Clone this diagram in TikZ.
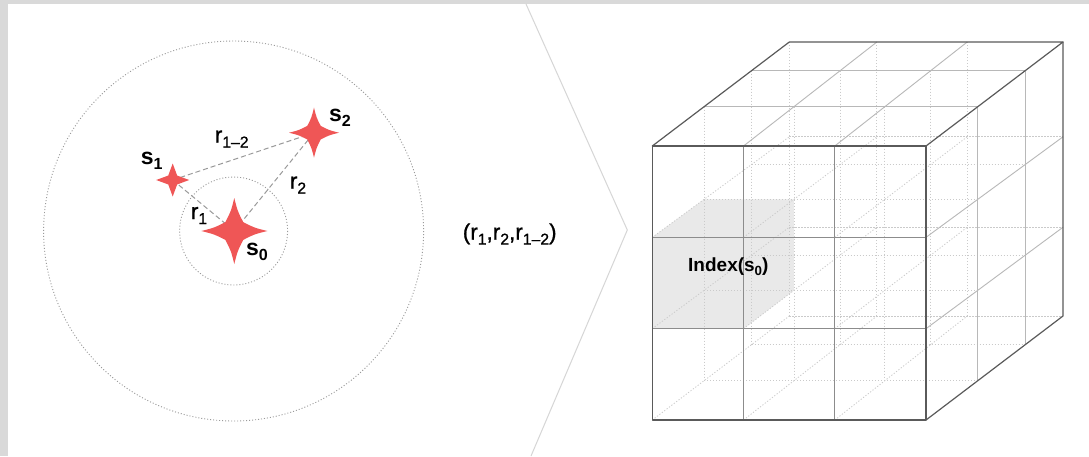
\documentclass[tikz,border=0pt]{standalone}
\usepackage{fontspec}
\setmainfont{Liberation Sans}
\newfontfamily\medfont{Liberation Sans}[FakeBold=0.9]
\usepackage{graphicx}
\definecolor{bgray}{HTML}{D9D9D9}
\definecolor{starred}{HTML}{EF5656}
\definecolor{edgedark}{HTML}{5A5A5A}
\definecolor{edgemid}{HTML}{8C8C8C}
\definecolor{edgelight}{HTML}{B8B8B8}
\definecolor{hidgray}{HTML}{CACACA}
\definecolor{shadegray}{HTML}{E9E9E9}
\definecolor{ringgray}{HTML}{9A9A9A}
\definecolor{chevgray}{HTML}{D6D6D6}
\newcommand{\lowsub}[1]{\raisebox{-0.22em}{\scalebox{0.7}{#1}}}
\begin{document}
\begin{tikzpicture}[x=1pt,y=-1pt,
  outer/.style={draw=edgedark,line width=1.2pt,line cap=round,line join=round},
  midline/.style={draw=edgemid,line width=0.9pt},
  lightline/.style={draw=edgelight,line width=0.9pt},
  hid/.style={draw=hidgray,line width=0.8pt,dash pattern=on 1.2pt off 1.8pt},
  ring/.style={draw=ringgray,line width=0.9pt,dash pattern=on 1pt off 2pt},
  link/.style={draw=ringgray,line width=1pt,dash pattern=on 5pt off 3pt},
  chev/.style={draw=chevgray,line width=1pt},
  slabel/.style={font=\fontsize{23}{25}\selectfont\bfseries,inner sep=0pt},
  rlabel/.style={font=\fontsize{22.5}{25}\selectfont\medfont,inner sep=0pt},
  ilabel/.style={font=\fontsize{19}{22}\selectfont\bfseries,inner sep=0pt},
  sparkle/.pic={\fill[starred] (-1,0) .. controls (-0.6,-0.1) .. (-0.27,-0.27) .. controls (-0.1,-0.6) .. (0,-1) .. controls (0.1,-0.6) .. (0.27,-0.27) .. controls (0.6,-0.1) .. (1,0) .. controls (0.6,0.1) .. (0.27,0.27) .. controls (0.1,0.6) .. (0,1) .. controls (-0.1,0.6) .. (-0.27,0.27) .. controls (-0.6,0.1) .. (-1,0) -- cycle;}
]
\useasboundingbox (0,0) rectangle (1089,456);
\fill[bgray] (0,0) rectangle (1089,456);
\fill[white] (8,4) rectangle (1089,456);

% chevron
\draw[chev] (526,4) -- (627.3,230) -- (531,456);

% ---- left panel ----
\coordinate (c0) at (233.6,231);
\coordinate (s0) at (234.3,231);
\coordinate (s1) at (172.7,180);
\coordinate (s2) at (314,132.7);
\draw[ring] (c0) circle[radius=190];
\draw[ring] (c0) circle[radius=54];
\draw[link] (s1) -- (s2);
\draw[link] (s1) -- (s0);
\draw[link] (s0) -- (s2);
\pic[scale=33] at (s0) {sparkle};
\pic[scale=16.5] at (s1) {sparkle};
\pic[scale=25] at (s2) {sparkle};
\node[slabel] (ls1) at (151.7,161) {s\lowsub{1}};
\node[slabel] (ls2) at (340,117.5) {s\lowsub{2}};
\node[slabel] (ls0) at (257,252) {s\lowsub{0}};
\node[rlabel] (lr1) at (199,215.5) {r\lowsub{1}};
\node[rlabel] (lr2) at (298,185) {r\lowsub{2}};
\node[rlabel] (lr12) at (231.7,139) {r\lowsub{1–2}};
\node[rlabel] (tuple) at (509.7,234) {(r\lowsub{1},r\lowsub{2},r\lowsub{1–2})};

% ---- cube lattice ----
\foreach \k in {0,...,3}{
  \pgfmathsetmacro\dd{{0,0.378,0.725,1}[\k]}
  \foreach \i in {0,...,3}{
    \pgfmathsetmacro\bx{{0,0.320,0.650,1}[\i]}
    \pgfmathsetmacro\cx{(1-\dd)*\i/3+\dd*\bx}
    \foreach \j in {0,...,3}{
      \pgfmathsetmacro\by{{0,0.346,0.676,1}[\j]}
      \pgfmathsetmacro\cy{(1-\dd)*\j/3+\dd*\by}
      \coordinate (P\i\j\k) at ({652.3+137*\dd+273.7*\cx},{146-104*\dd+274*\cy});
    }
  }
}
% shaded cell
\fill[shadegray] (P010) -- (P011) -- (P111) -- (P121) -- (P120) -- (P020) -- cycle;
% hidden lines
\foreach \j in {0,...,3}{\foreach \k in {0,...,3}{
  \pgfmathtruncatemacro\vis{(\k==0)||(\j==0)}
  \ifnum\vis=0 \draw[hid] (P0\j\k) -- (P3\j\k);\fi
}}
\foreach \i in {0,...,3}{\foreach \k in {0,...,3}{
  \pgfmathtruncatemacro\vis{(\k==0)||(\i==3)}
  \ifnum\vis=0 \draw[hid] (P\i0\k) -- (P\i3\k);\fi
}}
\foreach \i in {0,...,3}{\foreach \j in {0,...,3}{
  \pgfmathtruncatemacro\vis{(\j==0)||(\i==3)}
  \ifnum\vis=0 \draw[hid] (P\i\j0) -- (P\i\j1) -- (P\i\j2) -- (P\i\j3);\fi
}}
% visible face grid
\draw[lightline] (P001) -- (P301);
\draw[lightline] (P002) -- (P302);
\draw[lightline] (P301) -- (P331);
\draw[lightline] (P302) -- (P332);
\draw[lightline] (P100) -- (P101) -- (P102) -- (P103);
\draw[lightline] (P200) -- (P201) -- (P202) -- (P203);
\draw[lightline] (P310) -- (P311) -- (P312) -- (P313);
\draw[lightline] (P320) -- (P321) -- (P322) -- (P323);
\draw[midline] (P010) -- (P310);
\draw[midline] (P020) -- (P320);
\draw[midline] (P100) -- (P130);
\draw[midline] (P200) -- (P230);
% outline
\draw[outer] (P000) -- (P300) -- (P330) -- (P030) -- cycle;
\draw[outer] (P000) -- (P001) -- (P002) -- (P003) -- (P303) -- (P302) -- (P301) -- (P300);
\draw[outer] (P303) -- (P333) -- (P332) -- (P331) -- (P330);
\node[ilabel] (idx) at (728.3,267) {Index(s\lowsub{0})};
\end{tikzpicture}
\end{document}
